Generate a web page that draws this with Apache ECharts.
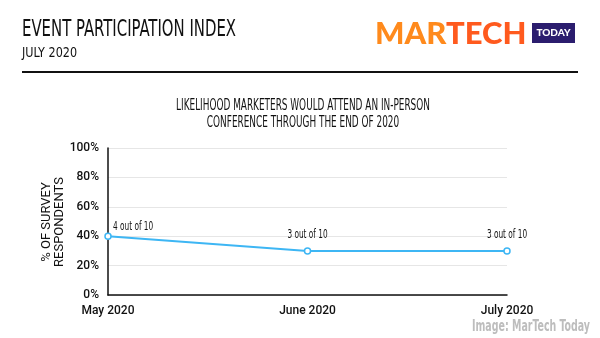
<!DOCTYPE html>
<html>
<head>
<meta charset="utf-8">
<script src="https://cdn.jsdelivr.net/npm/echarts@6/dist/echarts.min.js"></script>
<style>
  html, body { margin: 0; padding: 0; background: #fff; }
  #chart { width: 600px; height: 338px; }
</style>
</head>
<body>
<div id="chart"></div>
<script>
// Survey results: share of marketers likely to attend an in-person conference
const months = ['May 2020', 'June 2020', 'July 2020'];
const likelihood = [40, 30, 30];
const pointLabels = ['4 out of 10', '3 out of 10', '3 out of 10'];
const yTicks = [0, 20, 40, 60, 80, 100];
const yAxisTitle = '% OF SURVEY\nRESPONDENTS';

const condensed = '"DejaVu Sans Condensed", "Liberation Sans Narrow", sans-serif';
const ink = '#111';

// narrow text helper: condensed face squeezed horizontally
function narrowText(x, y, text, size, scaleX, opts) {
  opts = opts || {};
  return {
    type: 'text', x: x, y: y, scaleX: scaleX, silent: true,
    style: {
      text: text,
      fontFamily: condensed,
      fontSize: size,
      fontWeight: opts.weight || 'normal',
      fill: opts.fill || ink,
      align: opts.align || 'left',
      verticalAlign: 'middle'
    }
  };
}

const chart = echarts.init(document.getElementById('chart'), null, { renderer: 'canvas' });

chart.setOption({
  backgroundColor: '#fff',
  animation: false,
  grid: { left: 108, right: 93, top: 148, bottom: 43 },
  xAxis: {
    type: 'category',
    data: months,
    boundaryGap: false,
    axisLine: { lineStyle: { color: ink, width: 1.5 } },
    axisTick: { show: false },
    axisLabel: {
      fontFamily: 'Roboto',
      fontWeight: 500,
      fontSize: 12,
      color: ink,
      margin: 10
    }
  },
  yAxis: {
    type: 'value',
    min: yTicks[0],
    max: yTicks[yTicks.length - 1],
    interval: 20,
    axisLine: { show: true, lineStyle: { color: ink, width: 1.5 } },
    axisTick: { show: false },
    splitLine: { lineStyle: { color: '#e6e6e6', width: 1 } },
    axisLabel: {
      fontFamily: 'Roboto',
      fontWeight: 500,
      fontSize: 12,
      color: ink,
      margin: 9,
      formatter: '{value}%'
    }
  },
  series: [
    {
      type: 'line',
      data: likelihood,
      symbol: 'circle',
      symbolSize: 6,
      showAllSymbol: true,
      z: 3,
      lineStyle: { color: '#3db6f4', width: 2 },
      itemStyle: { color: '#fff', borderColor: '#3db6f4', borderWidth: 1.5 }
    },
    {
      // value captions above each point
      type: 'custom',
      data: likelihood.map((v, i) => [i, v]),
      z: 4,
      clip: false,
      renderItem: (params, api) => {
        const i = params.dataIndex;
        const pt = api.coord([api.value(0), api.value(1)]);
        const first = i === 0;
        return narrowText(
          pt[0] + (first ? 5 : 0),
          pt[1] - (first ? 10 : 16),
          pointLabels[i], 13, 0.63,
          { align: first ? 'left' : 'center' }
        );
      }
    }
  ],
  graphic: [
    narrowText(22, 30, 'EVENT PARTICIPATION INDEX', 23, 0.72),
    narrowText(22, 53, 'JULY 2020', 14, 0.89),
    {
      type: 'rect', shape: { x: 22, y: 71, width: 556, height: 2 },
      style: { fill: ink }, silent: true
    },
    narrowText(303, 106, 'LIKELIHOOD MARKETERS WOULD ATTEND AN IN-PERSON', 15, 0.66, { align: 'center' }),
    narrowText(303, 123, 'CONFERENCE THROUGH THE END OF 2020', 15, 0.66, { align: 'center' }),
    // vertical axis title
    {
      type: 'text', x: 53, y: 222, rotation: Math.PI / 2, silent: true,
      style: {
        text: yAxisTitle,
        fontFamily: 'Roboto',
        fontSize: 13,
        lineHeight: 13,
        fill: ink,
        align: 'center',
        verticalAlign: 'middle'
      }
    },
    // brand mark
    {
      type: 'text', left: 375, top: 18, silent: true,
      style: { text: 'MAR', font: '900 31px Lato, Roboto, sans-serif', fill: '#ff8a1c' }
    },
    {
      type: 'text', left: 446, top: 18, silent: true,
      style: { text: 'TECH', font: '900 31px Lato, Roboto, sans-serif', fill: '#ff5a1e' }
    },
    {
      type: 'rect', shape: { x: 532, y: 23, width: 43, height: 20 },
      style: { fill: '#2b1d6e' }, silent: true
    },
    {
      type: 'text', x: 553.5, y: 33, silent: true,
      style: { text: 'TODAY', font: '900 10px Lato, Roboto, sans-serif', fill: '#fff', align: 'center', verticalAlign: 'middle' }
    },
    narrowText(590, 327, 'Image: MarTech Today', 15, 0.70, { align: 'right', weight: 'bold', fill: '#bdbdbd' })
  ]
});
</script>
</body>
</html>
